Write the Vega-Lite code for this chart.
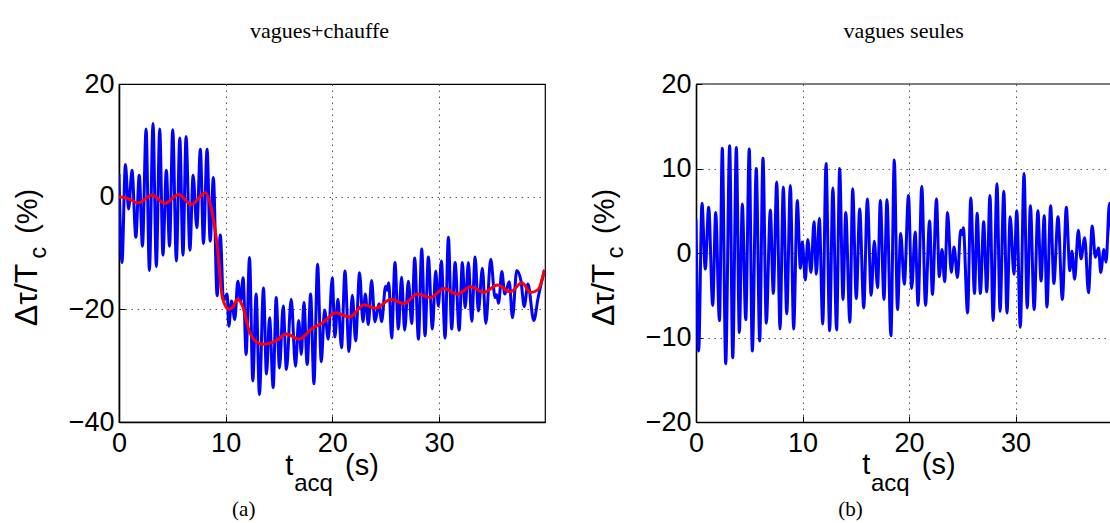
{
  "$schema": "https://vega.github.io/schema/vega-lite/v6.json",
  "background": "white",
  "padding": {"left": 10, "top": 19, "right": 0, "bottom": 0},
  "config": {
    "font": "Liberation Sans",
    "view": {"stroke": "black", "strokeWidth": 1.2},
    "axis": {
      "title": null,
      "labelFont": "Liberation Sans",
      "labelFontSize": 27,
      "labelColor": "black",
      "labelFlush": false,
      "labelOverlap": false,
      "tickSize": -6,
      "tickColor": "black",
      "tickWidth": 1,
      "domainColor": "black",
      "domainWidth": 1.6,
      "grid": true,
      "gridColor": "#555555",
      "gridDash": [1.5, 4.5],
      "gridWidth": 1
    }
  },
  "datasets": {
    "left_blue": [
      {"t":0,"v":4.0},{"t":0.28,"v":-11.7},{"t":0.6,"v":5.7},{"t":0.9,"v":-2.2},{"t":1.22,"v":4.7},{"t":1.58,"v":-7.2},{"t":1.9,"v":3.8},{"t":2.2,"v":-8.8},{"t":2.54,"v":12.0},{"t":2.85,"v":-13.1},{"t":3.19,"v":13.0},{"t":3.5,"v":-12.4},{"t":3.82,"v":12.0},{"t":4.12,"v":-10.4},{"t":4.44,"v":4.7},{"t":4.74,"v":-8.8},{"t":5.04,"v":11.9},{"t":5.38,"v":-11.4},{"t":5.7,"v":10.4},{"t":6.0,"v":-10.4},{"t":6.29,"v":10.7},{"t":6.65,"v":-9.5},{"t":6.95,"v":3.8},{"t":7.3,"v":-5.5},{"t":7.63,"v":8.4},{"t":7.92,"v":-8.3},{"t":8.26,"v":8.4},{"t":8.55,"v":-7.9},{"t":8.85,"v":3.4},{"t":9.2,"v":-17.6},{"t":9.5,"v":-6.8},{"t":9.8,"v":-18.5},{"t":10.14,"v":-17.3},{"t":10.3,"v":-23.0},{"t":10.55,"v":-18.5},{"t":10.86,"v":-21.8},{"t":11.14,"v":-15.0},{"t":11.4,"v":-18.5},{"t":11.64,"v":-14.4},{"t":11.92,"v":-28.0},{"t":12.24,"v":-10.8},{"t":12.55,"v":-32.7},{"t":12.86,"v":-17.3},{"t":13.17,"v":-35.1},{"t":13.55,"v":-16.2},{"t":13.83,"v":-31.5},{"t":14.12,"v":-21.5},{"t":14.46,"v":-33.9},{"t":14.74,"v":-17.9},{"t":15.05,"v":-30.4},{"t":15.4,"v":-19.4},{"t":15.7,"v":-30.7},{"t":16.15,"v":-18.2},{"t":16.55,"v":-30.1},{"t":16.85,"v":-22.0},{"t":17.1,"v":-28.0},{"t":17.34,"v":-18.8},{"t":17.65,"v":-29.8},{"t":17.97,"v":-17.3},{"t":18.28,"v":-33.2},{"t":18.62,"v":-12.0},{"t":18.97,"v":-29.3},{"t":19.28,"v":-20.1},{"t":19.62,"v":-25.3},{"t":20.0,"v":-14.4},{"t":20.25,"v":-24.9},{"t":20.53,"v":-18.2},{"t":20.87,"v":-26.8},{"t":21.19,"v":-13.2},{"t":21.57,"v":-27.5},{"t":21.88,"v":-17.5},{"t":22.19,"v":-25.6},{"t":22.56,"v":-13.5},{"t":22.88,"v":-22.2},{"t":23.1,"v":-17.3},{"t":23.38,"v":-22.7},{"t":23.69,"v":-14.9},{"t":24.0,"v":-22.2},{"t":24.38,"v":-19.0},{"t":24.63,"v":-22.2},{"t":25.0,"v":-15.9},{"t":25.15,"v":-16.6},{"t":25.3,"v":-15.3},{"t":25.57,"v":-25.1},{"t":25.88,"v":-11.7},{"t":26.2,"v":-23.5},{"t":26.5,"v":-14.3},{"t":26.79,"v":-23.7},{"t":27.14,"v":-15.0},{"t":27.45,"v":-22.5},{"t":27.73,"v":-10.9},{"t":28.08,"v":-25.3},{"t":28.39,"v":-9.3},{"t":28.7,"v":-24.7},{"t":29.01,"v":-10.7},{"t":29.39,"v":-23.5},{"t":29.7,"v":-13.2},{"t":29.95,"v":-19.4},{"t":30.23,"v":-11.4},{"t":30.58,"v":-25.1},{"t":30.89,"v":-7.2},{"t":31.2,"v":-23.5},{"t":31.52,"v":-11.7},{"t":31.9,"v":-23.7},{"t":32.2,"v":-11.7},{"t":32.46,"v":-19.7},{"t":32.77,"v":-11.7},{"t":33.08,"v":-22.1},{"t":33.4,"v":-10.7},{"t":33.7,"v":-20.3},{"t":34.08,"v":-12.7},{"t":34.4,"v":-22.5},{"t":34.86,"v":-11.1},{"t":35.27,"v":-17.9},{"t":35.42,"v":-17.4},{"t":35.6,"v":-18.9},{"t":35.9,"v":-13.3},{"t":36.18,"v":-17.3},{"t":36.6,"v":-15.1},{"t":36.9,"v":-21.5},{"t":37.3,"v":-13.1},{"t":37.7,"v":-15.0},{"t":38.0,"v":-19.5},{"t":38.35,"v":-15.5},{"t":38.9,"v":-22.0},{"t":39.3,"v":-18.0},{"t":39.9,"v":-13.0}
    ],
    "left_red": [
      {"t":0,"v":0.0},{"t":0.8,"v":-0.3},{"t":1.8,"v":-1.1},{"t":3.1,"v":0.3},{"t":4.3,"v":-1.2},{"t":5.6,"v":0.4},{"t":6.8,"v":-1.4},{"t":8.1,"v":0.7},{"t":8.7,"v":-2.5},{"t":9.2,"v":-8.5},{"t":9.7,"v":-17.9},{"t":10.3,"v":-20.0},{"t":10.7,"v":-19.6},{"t":11.1,"v":-18.2},{"t":11.6,"v":-19.5},{"t":12.2,"v":-23.8},{"t":12.9,"v":-25.8},{"t":13.5,"v":-26.2},{"t":14.7,"v":-25.6},{"t":15.7,"v":-24.4},{"t":16.9,"v":-25.3},{"t":18.1,"v":-23.4},{"t":19.1,"v":-22.4},{"t":20.3,"v":-20.6},{"t":21.6,"v":-21.4},{"t":23.0,"v":-19.2},{"t":24.1,"v":-19.8},{"t":25.5,"v":-18.2},{"t":26.7,"v":-19.0},{"t":28.0,"v":-17.3},{"t":29.2,"v":-17.9},{"t":30.5,"v":-16.3},{"t":31.7,"v":-17.3},{"t":33.0,"v":-16.0},{"t":34.2,"v":-17.0},{"t":35.5,"v":-15.7},{"t":36.7,"v":-16.9},{"t":37.8,"v":-15.3},{"t":38.6,"v":-17.0},{"t":39.3,"v":-16.5},{"t":39.9,"v":-13.0}
    ],
    "right_blue": [
      {"t":0,"v":4.0},{"t":0.25,"v":-11.6},{"t":0.56,"v":5.9},{"t":0.87,"v":-1.9},{"t":1.19,"v":5.4},{"t":1.57,"v":-6.2},{"t":1.85,"v":4.8},{"t":2.2,"v":-8.0},{"t":2.47,"v":12.4},{"t":2.79,"v":-13.1},{"t":3.16,"v":12.7},{"t":3.45,"v":-12.4},{"t":3.79,"v":12.5},{"t":4.07,"v":-9.4},{"t":4.35,"v":5.8},{"t":4.67,"v":-7.9},{"t":5.0,"v":12.3},{"t":5.29,"v":-11.6},{"t":5.66,"v":10.0},{"t":5.98,"v":-10.4},{"t":6.29,"v":11.2},{"t":6.6,"v":-8.3},{"t":6.98,"v":5.1},{"t":7.26,"v":-4.8},{"t":7.58,"v":8.4},{"t":7.89,"v":-9.0},{"t":8.2,"v":7.8},{"t":8.52,"v":-7.2},{"t":8.86,"v":8.0},{"t":9.17,"v":-9.0},{"t":9.51,"v":6.2},{"t":9.8,"v":-1.8},{"t":9.98,"v":1.3},{"t":10.27,"v":-3.2},{"t":10.49,"v":1.6},{"t":10.8,"v":-2.3},{"t":11.08,"v":3.7},{"t":11.3,"v":-2.5},{"t":11.58,"v":4.1},{"t":11.9,"v":-8.4},{"t":12.21,"v":10.6},{"t":12.55,"v":-9.2},{"t":12.85,"v":7.7},{"t":13.2,"v":-9.1},{"t":13.49,"v":10.0},{"t":13.8,"v":-5.5},{"t":14.06,"v":4.8},{"t":14.45,"v":-8.2},{"t":14.71,"v":7.6},{"t":15.05,"v":-5.4},{"t":15.37,"v":5.2},{"t":15.75,"v":-6.5},{"t":16.09,"v":6.4},{"t":16.45,"v":-5.0},{"t":16.74,"v":1.4},{"t":17.05,"v":-4.1},{"t":17.31,"v":6.2},{"t":17.65,"v":-5.5},{"t":17.93,"v":6.3},{"t":18.3,"v":-9.8},{"t":18.62,"v":11.0},{"t":18.92,"v":-6.7},{"t":19.22,"v":2.3},{"t":19.56,"v":-3.7},{"t":19.95,"v":6.8},{"t":20.25,"v":-4.2},{"t":20.58,"v":2.5},{"t":20.85,"v":-6.2},{"t":21.2,"v":7.9},{"t":21.55,"v":-6.2},{"t":21.93,"v":3.8},{"t":22.2,"v":-4.9},{"t":22.58,"v":6.4},{"t":22.84,"v":-2.8},{"t":23.1,"v":0.4},{"t":23.35,"v":-3.4},{"t":23.62,"v":4.8},{"t":23.97,"v":-2.3},{"t":24.23,"v":0.7},{"t":24.55,"v":-2.9},{"t":24.85,"v":2.7},{"t":24.97,"v":2.2},{"t":25.1,"v":3.0},{"t":25.5,"v":-7.1},{"t":25.8,"v":6.5},{"t":26.15,"v":-4.8},{"t":26.4,"v":4.7},{"t":26.7,"v":-4.8},{"t":27.01,"v":3.7},{"t":27.3,"v":-4.6},{"t":27.6,"v":6.8},{"t":27.9,"v":-8.0},{"t":28.26,"v":8.2},{"t":28.55,"v":-6.9},{"t":28.9,"v":7.3},{"t":29.2,"v":-7.1},{"t":29.5,"v":4.3},{"t":29.85,"v":-2.5},{"t":30.12,"v":5.0},{"t":30.45,"v":-8.8},{"t":30.8,"v":9.4},{"t":31.1,"v":-6.5},{"t":31.4,"v":5.6},{"t":31.75,"v":-6.7},{"t":32.1,"v":5.0},{"t":32.4,"v":-3.3},{"t":32.7,"v":4.4},{"t":32.95,"v":-6.4},{"t":33.3,"v":5.6},{"t":33.6,"v":-3.6},{"t":33.99,"v":4.3},{"t":34.4,"v":-5.5},{"t":34.77,"v":5.4},{"t":35.1,"v":-2.1},{"t":35.3,"v":0.2},{"t":35.55,"v":-3.1},{"t":35.9,"v":2.7},{"t":36.15,"v":-0.7},{"t":36.5,"v":1.8},{"t":36.85,"v":-4.7},{"t":37.2,"v":3.2},{"t":37.5,"v":-0.5},{"t":37.8,"v":0.6},{"t":38.0,"v":-2.3},{"t":38.3,"v":0.4},{"t":38.5,"v":-1.1},{"t":38.82,"v":5.9},{"t":39.15,"v":-4.0}
    ]
  },
  "spacing": 151,
  "bounds": "flush",
  "hconcat": [
    {
      "width": 426,
      "height": 338,
      "layer": [
        {
          "data": {"name": "left_blue"},
          "mark": {"type": "line", "color": "#0000ff", "strokeWidth": 3, "interpolate": "monotone", "clip": true},
          "encoding": {
            "x": {"field": "t", "type": "quantitative", "scale": {"domain": [0, 39.95], "nice": false, "zero": false},
                  "axis": {"values": [0, 10, 20, 30], "labelPadding": 14, "gridOpacity": {"condition": {"test": "datum.value === 0", "value": 0}, "value": 1}}},
            "y": {"field": "v", "type": "quantitative", "scale": {"domain": [-40, 20], "nice": false, "zero": false},
                  "axis": {"values": [-40, -20, 0, 20], "labelPadding": 11, "gridOpacity": {"condition": {"test": "datum.value === 20 || datum.value === -40", "value": 0}, "value": 1}}}
          }
        },
        {
          "data": {"name": "left_red"},
          "mark": {"type": "line", "color": "#ff0000", "strokeWidth": 3, "interpolate": "monotone", "clip": true},
          "encoding": {
            "x": {"field": "t", "type": "quantitative"},
            "y": {"field": "v", "type": "quantitative"}
          }
        },
        {
          "data": {"values": [{"s": "vagues+chauffe"}]},
          "mark": {"type": "text", "font": "Liberation Serif", "fontSize": 22, "align": "center", "baseline": "middle", "color": "black"},
          "encoding": {"x": {"datum": 18.8}, "y": {"datum": 29.4}, "text": {"field": "s"}}
        },
        {
          "data": {"values": [{"s": "(a)"}]},
          "mark": {"type": "text", "font": "Liberation Serif", "fontSize": 21, "align": "center", "baseline": "middle", "color": "black"},
          "encoding": {"x": {"datum": 11.7}, "y": {"datum": -55.7}, "text": {"field": "s"}}
        },
        {
          "data": {"values": [{"s": "Δτ/T"}]},
          "mark": {"type": "text", "fontSize": 32, "angle": 270, "align": "left", "baseline": "alphabetic", "color": "black"},
          "encoding": {"x": {"datum": -7.7}, "y": {"datum": -23.0}, "text": {"field": "s"}}
        },
        {
          "data": {"values": [{"s": "c"}]},
          "mark": {"type": "text", "fontSize": 24, "angle": 270, "align": "left", "baseline": "alphabetic", "color": "black"},
          "encoding": {"x": {"datum": -6.85}, "y": {"datum": -11.0}, "text": {"field": "s"}}
        },
        {
          "data": {"values": [{"s": "(%)"}]},
          "mark": {"type": "text", "fontSize": 29, "angle": 270, "align": "left", "baseline": "alphabetic", "color": "black"},
          "encoding": {"x": {"datum": -7.7}, "y": {"datum": -6.6}, "text": {"field": "s"}}
        },
        {
          "data": {"values": [{"s": "t"}]},
          "mark": {"type": "text", "fontSize": 29, "align": "left", "baseline": "alphabetic", "color": "black"},
          "encoding": {"x": {"datum": 15.6}, "y": {"datum": -49.4}, "text": {"field": "s"}}
        },
        {
          "data": {"values": [{"s": "acq"}]},
          "mark": {"type": "text", "fontSize": 24, "align": "left", "baseline": "alphabetic", "color": "black"},
          "encoding": {"x": {"datum": 16.43}, "y": {"datum": -52.3}, "text": {"field": "s"}}
        },
        {
          "data": {"values": [{"s": "(s)"}]},
          "mark": {"type": "text", "fontSize": 29, "align": "left", "baseline": "alphabetic", "color": "black"},
          "encoding": {"x": {"datum": 21.2}, "y": {"datum": -49.4}, "text": {"field": "s"}}
        }
      ]
    },
    {
      "width": 416,
      "height": 338,
      "view": {"stroke": null},
      "layer": [
        {
          "data": {"name": "right_blue"},
          "mark": {"type": "line", "color": "#0000ff", "strokeWidth": 3, "interpolate": "monotone", "clip": true},
          "encoding": {
            "x": {"field": "t", "type": "quantitative", "scale": {"domain": [0, 39.06], "nice": false, "zero": false},
                  "axis": {"values": [0, 10, 20, 30], "labelPadding": 14, "gridOpacity": {"condition": {"test": "datum.value === 0", "value": 0}, "value": 1}}},
            "y": {"field": "v", "type": "quantitative", "scale": {"domain": [-20, 20], "nice": false, "zero": false},
                  "axis": {"values": [-20, -10, 0, 10, 20], "labelPadding": 11, "gridOpacity": {"condition": {"test": "datum.value === 20 || datum.value === -20", "value": 0}, "value": 1}}}
          }
        },
        {
          "data": {"values": [{"s": "top"}]},
          "mark": {"type": "rule", "color": "black", "strokeWidth": 1.2},
          "encoding": {"x": {"datum": 0}, "x2": {"datum": 39.06}, "y": {"datum": 20}}
        },
        {
          "data": {"values": [{"s": "vagues seules"}]},
          "mark": {"type": "text", "font": "Liberation Serif", "fontSize": 22, "align": "center", "baseline": "middle", "color": "black"},
          "encoding": {"x": {"datum": 19.5}, "y": {"datum": 26.3}, "text": {"field": "s"}}
        },
        {
          "data": {"values": [{"s": "(b)"}]},
          "mark": {"type": "text", "font": "Liberation Serif", "fontSize": 21, "align": "center", "baseline": "middle", "color": "black"},
          "encoding": {"x": {"datum": 14.5}, "y": {"datum": -30.45}, "text": {"field": "s"}}
        },
        {
          "data": {"values": [{"s": "Δτ/T"}]},
          "mark": {"type": "text", "fontSize": 32, "angle": 270, "align": "left", "baseline": "alphabetic", "color": "black"},
          "encoding": {"x": {"datum": -7.7}, "y": {"datum": -8.65}, "text": {"field": "s"}}
        },
        {
          "data": {"values": [{"s": "c"}]},
          "mark": {"type": "text", "fontSize": 24, "angle": 270, "align": "left", "baseline": "alphabetic", "color": "black"},
          "encoding": {"x": {"datum": -6.85}, "y": {"datum": -0.65}, "text": {"field": "s"}}
        },
        {
          "data": {"values": [{"s": "(%)"}]},
          "mark": {"type": "text", "fontSize": 29, "angle": 270, "align": "left", "baseline": "alphabetic", "color": "black"},
          "encoding": {"x": {"datum": -7.7}, "y": {"datum": 2.25}, "text": {"field": "s"}}
        },
        {
          "data": {"values": [{"s": "t"}]},
          "mark": {"type": "text", "fontSize": 29, "align": "left", "baseline": "alphabetic", "color": "black"},
          "encoding": {"x": {"datum": 15.6}, "y": {"datum": -26.2}, "text": {"field": "s"}}
        },
        {
          "data": {"values": [{"s": "acq"}]},
          "mark": {"type": "text", "fontSize": 24, "align": "left", "baseline": "alphabetic", "color": "black"},
          "encoding": {"x": {"datum": 16.43}, "y": {"datum": -28.2}, "text": {"field": "s"}}
        },
        {
          "data": {"values": [{"s": "(s)"}]},
          "mark": {"type": "text", "fontSize": 29, "align": "left", "baseline": "alphabetic", "color": "black"},
          "encoding": {"x": {"datum": 21.2}, "y": {"datum": -26.2}, "text": {"field": "s"}}
        }
      ]
    }
  ]
}
